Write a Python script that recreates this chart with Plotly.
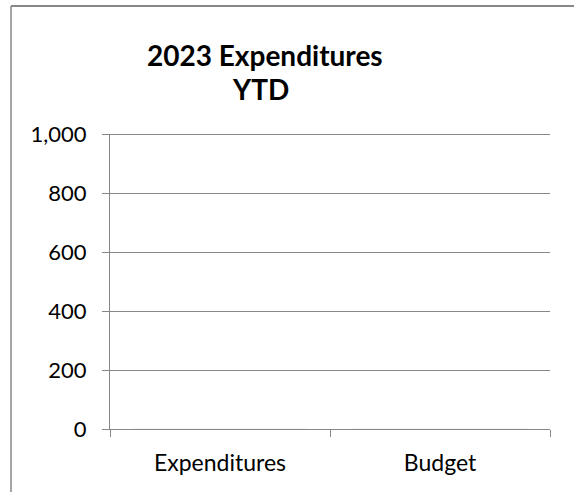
import plotly.graph_objects as go

categories = ["Expenditures", "Budget"]
values = [0, 0]
title_lines = ["2023 Expenditures", "YTD"]
y_ticks = [0, 200, 400, 600, 800, 1000]

W, H = 574, 492
L, R, T, B = 110, 24, 134, 63
pw, ph = W - L - R, H - T - B

def px_x(x):
    return (x - L) / pw

def px_y(y):
    return (H - B - y) / ph

grey = "#878787"
font = "Lato, Carlito, Calibri, sans-serif"

fig = go.Figure()
fig.add_trace(go.Bar(x=categories, y=values, marker_color="#4F81BD", showlegend=False))

annotations = []
for text, cx, cy in zip(title_lines, [265, 260], [55, 89]):
    annotations.append(dict(text="<b>" + text + "</b>", xref="paper", yref="paper",
                            x=px_x(cx), y=px_y(cy), xanchor="center", yanchor="middle",
                            showarrow=False, font=dict(family=font, size=28, color="black")))

y_top = y_ticks[-1]
half_px = 0.5 * y_top / ph  # snap the top gridline onto a whole pixel row

shapes = [
    dict(type="line", xref="paper", yref="paper", x0=px_x(11), x1=px_x(W),
         y0=px_y(6), y1=px_y(6), line=dict(color=grey, width=2), layer="above"),
    dict(type="line", xref="paper", yref="paper", x0=px_x(11), x1=px_x(11),
         y0=px_y(6), y1=px_y(H), line=dict(color=grey, width=1.5), layer="above"),
    dict(type="line", xref="paper", yref="y", x0=0, x1=1,
         y0=y_top - half_px, y1=y_top - half_px, line=dict(color=grey, width=1)),
]

fig.update_layout(
    width=W, height=H,
    margin=dict(l=L, r=R, t=T, b=B, pad=0),
    paper_bgcolor="white", plot_bgcolor="white",
    font=dict(family=font, size=22, color="black"),
    annotations=annotations,
    shapes=shapes,
    xaxis=dict(showline=True, linecolor=grey, linewidth=1, ticks="outside",
               tickcolor=grey, ticklen=7, tickson="boundaries", showgrid=False,
               tickfont=dict(size=23), ticklabelstandoff=13),
    yaxis=dict(range=[0, y_top], tickvals=y_ticks, tickformat=",", showline=True,
               linecolor=grey, linewidth=1, ticks="outside", tickcolor=grey, ticklen=7,
               showgrid=True, gridcolor=grey, gridwidth=1, zeroline=False,
               tickfont=dict(size=22), ticklabelstandoff=11),
)

fig.write_html("out.html")
